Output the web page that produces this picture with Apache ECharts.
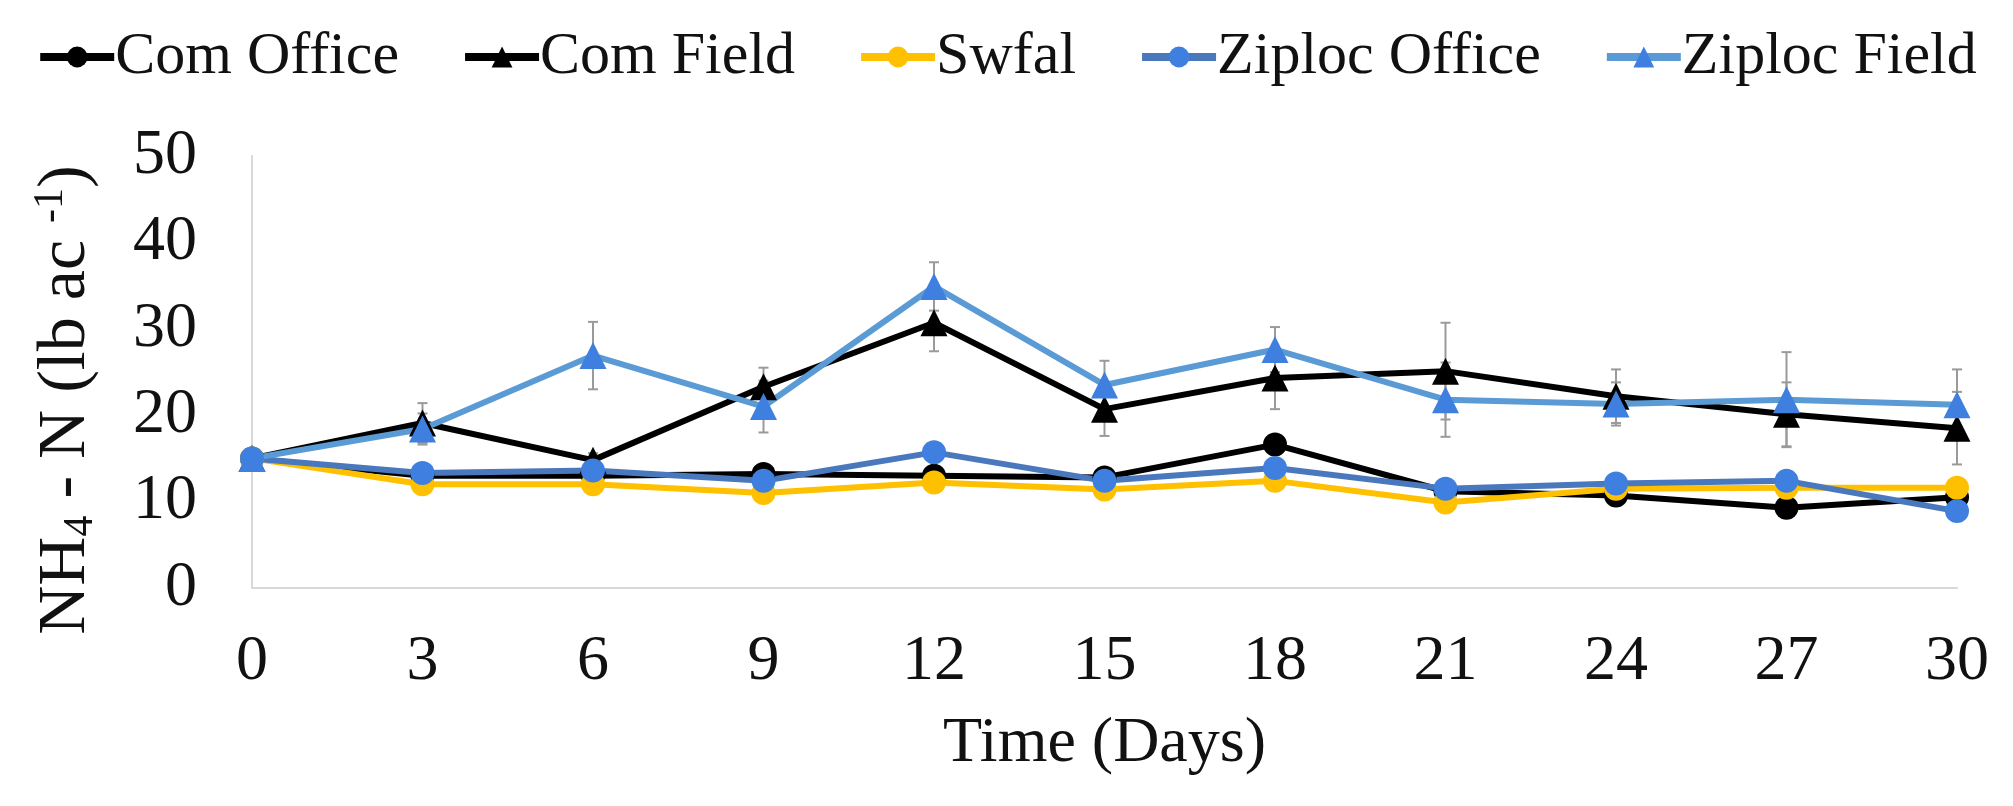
<!DOCTYPE html>
<html>
<head>
<meta charset="utf-8">
<script src="https://cdn.jsdelivr.net/npm/echarts@6/dist/echarts.min.js"></script>
<style>
  html, body { margin: 0; padding: 0; background: #fff; }
  #main { width: 2013px; height: 806px; }
</style>
</head>
<body>
<div id="main"></div>
<script>
// data
var days = [0, 3, 6, 9, 12, 15, 18, 21, 24, 27, 30];
var comOffice = [15.0, 13.0, 13.0, 13.2, 13.0, 12.8, 16.6, 11.2, 10.7, 9.3, 10.5];
var comField = [15.0, 19.1, 14.8, 23.3, 30.7, 20.7, 24.3, 25.1, 22.2, 20.1, 18.5];
var swfal = [15.0, 12.0, 12.0, 11.0, 12.2, 11.4, 12.4, 9.9, 11.5, 11.6, 11.6];
var ziplocOffice = [15.0, 13.3, 13.6, 12.4, 15.7, 12.4, 13.9, 11.5, 12.1, 12.4, 8.9];
var ziplocField = [15.0, 18.4, 26.9, 21.0, 34.9, 23.5, 27.6, 21.8, 21.3, 21.8, 21.2];
// error bar half widths
var comFieldErr = [0, 2.3, 0.8, 2.2, 3.3, 3.1, 3.6, 5.6, 3.1, 3.7, 4.2];
var ziplocFieldErr = [0, 1.8, 3.9, 3.0, 2.8, 2.8, 2.6, 4.3, 2.5, 5.5, 4.1];

var FONT = 'Liberation Serif';

function pairs(vals) {
  return days.map(function (d, i) { return [d, vals[i]]; });
}
function errData(vals, errs) {
  return days.map(function (d, i) { return [d, vals[i] - errs[i], vals[i] + errs[i]]; });
}

function renderErr(params, api) {
  var x = api.value(0);
  var lo = api.coord([x, api.value(1)]);
  var hi = api.coord([x, api.value(2)]);
  if (Math.abs(lo[1] - hi[1]) < 1) return;
  var cap = 5;
  var st = { stroke: '#9a9a9a', lineWidth: 2 };
  return {
    type: 'group',
    children: [
      { type: 'line', shape: { x1: hi[0], y1: hi[1], x2: lo[0], y2: lo[1] }, style: st },
      { type: 'line', shape: { x1: hi[0] - cap, y1: hi[1], x2: hi[0] + cap, y2: hi[1] }, style: st },
      { type: 'line', shape: { x1: lo[0] - cap, y1: lo[1], x2: lo[0] + cap, y2: lo[1] }, style: st }
    ]
  };
}

function lineSeries(name, data, color, markColor, symbol, size) {
  return {
    name: name,
    type: 'line',
    data: pairs(data),
    symbol: symbol,
    symbolSize: size,
    lineStyle: { color: color, width: 6 },
    itemStyle: { color: markColor },
    z: 3
  };
}

var chart = echarts.init(document.getElementById('main'));
chart.setOption({
  animation: false,
  backgroundColor: '#fff',
  legend: {
    data: ['Com Office', 'Com Field', 'Swfal', 'Ziploc Office', 'Ziploc Field'],
    top: 22,
    left: 'center',
    itemWidth: 74,
    itemHeight: 26,
    itemGap: 62,
    lineStyle: { width: 8 },
    textStyle: { fontFamily: FONT, fontSize: 60, color: '#111', padding: [0, 0, 0, -4] }
  },
  grid: { left: 252, right: 56, top: 156, bottom: 218 },
  xAxis: {
    type: 'value',
    min: 0, max: 30, interval: 3,
    name: 'Time (Days)',
    nameLocation: 'middle',
    nameGap: 124,
    nameTextStyle: { fontFamily: FONT, fontSize: 64, color: '#111' },
    axisLine: { show: true, onZero: false, lineStyle: { color: '#d9d9d9', width: 2 } },
    axisTick: { show: false },
    splitLine: { show: false },
    axisLabel: { fontFamily: FONT, fontSize: 64, color: '#111', margin: 42 }
  },
  yAxis: {
    type: 'value',
    min: 0, max: 50, interval: 10,
    axisLine: { show: true, lineStyle: { color: '#d9d9d9', width: 2 } },
    axisTick: { show: false },
    splitLine: { show: false },
    axisLabel: { fontFamily: FONT, fontSize: 64, color: '#111', margin: 55 }
  },
  graphic: [{
    type: 'text',
    x: 66,
    y: 400,
    rotation: Math.PI / 2,
    style: {
      text: '{a|NH}{s|4}{a| - N (lb ac }{p|-1}{a|)}',
      align: 'center',
      verticalAlign: 'middle',
      fill: '#111',
      rich: {
        a: { fontFamily: FONT, fontSize: 68, lineHeight: 72, fill: '#111' },
        s: { fontFamily: FONT, fontSize: 42, lineHeight: 72, verticalAlign: 'bottom', fill: '#111' },
        p: { fontFamily: FONT, fontSize: 42, lineHeight: 72, verticalAlign: 'top', fill: '#111' }
      }
    }
  }],
  series: [
    { name: 'comFieldErr', type: 'custom', renderItem: renderErr, data: errData(comField, comFieldErr), z: 2, silent: true },
    { name: 'ziplocFieldErr', type: 'custom', renderItem: renderErr, data: errData(ziplocField, ziplocFieldErr), z: 2, silent: true },
    lineSeries('Com Office', comOffice, '#000000', '#000000', 'circle', 24),
    lineSeries('Com Field', comField, '#000000', '#000000', 'triangle', 27),
    lineSeries('Swfal', swfal, '#ffc000', '#ffc000', 'circle', 24),
    lineSeries('Ziploc Office', ziplocOffice, '#4a78bd', '#3f7fe0', 'circle', 24),
    lineSeries('Ziploc Field', ziplocField, '#5b9bd5', '#3f7fe0', 'triangle', 27)
  ]
});
</script>
</body>
</html>
